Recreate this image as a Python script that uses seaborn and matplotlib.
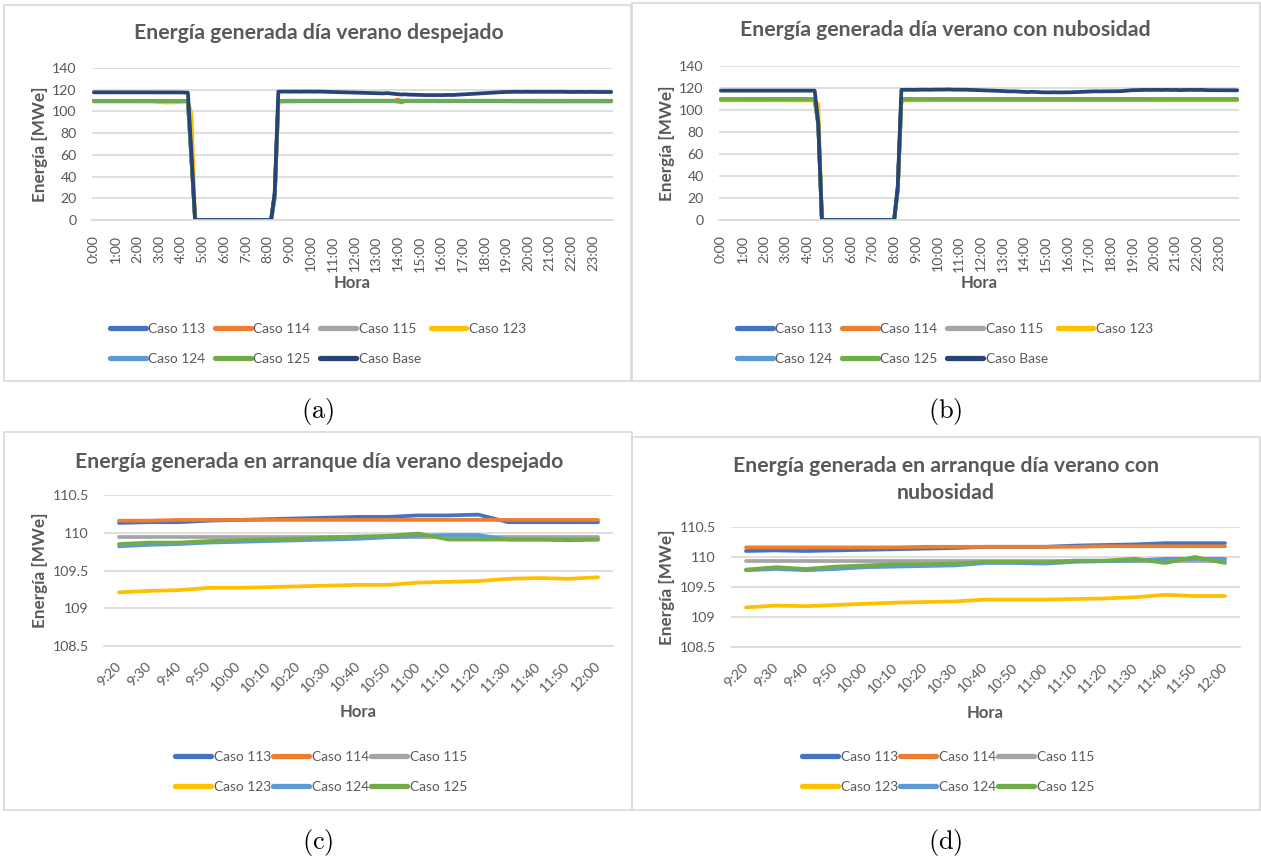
import numpy as np
import pandas as pd
import matplotlib
matplotlib.use("Agg")
import matplotlib.pyplot as plt
import seaborn as sns
from matplotlib.lines import Line2D
from matplotlib.patches import Rectangle

# ------------------------------------------------------------------
# Datos
# ------------------------------------------------------------------
SERIES = ["Caso 113", "Caso 114", "Caso 115", "Caso 123", "Caso 124", "Caso 125", "Caso Base"]
COLORS = {
    "Caso 113": "#4472C4",
    "Caso 114": "#ED7D31",
    "Caso 115": "#A5A5A5",
    "Caso 123": "#FFC000",
    "Caso 124": "#5B9BD5",
    "Caso 125": "#70AD47",
    "Caso Base": "#264478",
}

# Día completo: registros cada 10 minutos (0:00 ... 23:50), etiqueta cada hora
HORAS_DIA = ["0:00", "1:00", "2:00", "3:00", "4:00", "5:00", "6:00", "7:00",
             "8:00", "9:00", "10:00", "11:00", "12:00", "13:00", "14:00", "15:00",
             "16:00", "17:00", "18:00", "19:00", "20:00", "21:00", "22:00", "23:00"]
# Arranque: registros cada 10 minutos entre 9:20 y 12:00
HORAS_ARRANQUE = ["9:20", "9:30", "9:40", "9:50", "10:00", "10:10", "10:20", "10:30", "10:40",
                  "10:50", "11:00", "11:10", "11:20", "11:30", "11:40", "11:50", "12:00"]

# ---- (a) día verano despejado [MWe] ----
A_113 = [
    109.8, 109.8, 109.8, 109.8, 109.8, 109.8, 109.8, 109.8, 109.8, 109.8, 109.8, 109.8,
    109.8, 109.8, 109.8, 109.8, 109.8, 109.8, 109.8, 109.8, 109.8, 109.8, 109.8, 109.8,
    109.8, 109.8, 109.7, 57.0, 0.0, 0.0, 0.0, 0.0, 0.0, 0.0, 0.0, 0.0,
    0.0, 0.0, 0.0, 0.0, 0.0, 0.0, 0.0, 0.0, 0.0, 0.0, 0.0, 0.0,
    0.0, 0.0, 24.0, 109.7, 109.8, 109.8, 109.8, 109.8, 109.8, 109.8, 109.8, 109.8,
    109.8, 109.8, 109.8, 109.8, 109.8, 109.8, 109.8, 109.8, 109.8, 109.8, 109.8, 109.8,
    109.8, 109.8, 109.8, 109.8, 109.8, 109.8, 109.8, 109.8, 109.8, 109.8, 109.8, 109.8,
    109.8, 109.8, 109.8, 109.8, 109.8, 109.8, 109.8, 109.8, 109.8, 109.8, 109.8, 109.8,
    109.8, 109.8, 109.8, 109.8, 109.8, 109.8, 109.8, 109.8, 109.8, 109.8, 109.8, 109.8,
    109.8, 109.8, 109.8, 109.8, 109.8, 109.8, 109.8, 109.8, 109.8, 109.8, 109.8, 109.8,
    109.8, 109.8, 109.8, 109.8, 109.8, 109.8, 109.8, 109.8, 109.8, 109.8, 109.8, 109.8,
    109.8, 109.8, 109.8, 109.8, 109.8, 109.8, 109.8, 109.8, 109.8, 109.8, 109.8, 109.8,
]
A_114 = [
    109.7, 109.7, 109.7, 109.7, 109.7, 109.7, 109.7, 109.7, 109.7, 109.7, 109.7, 109.7,
    109.7, 109.7, 109.7, 109.7, 109.7, 109.7, 109.7, 109.7, 109.7, 109.7, 109.7, 109.7,
    109.7, 109.7, 109.7, 58.0, 0.0, 0.0, 0.0, 0.0, 0.0, 0.0, 0.0, 0.0,
    0.0, 0.0, 0.0, 0.0, 0.0, 0.0, 0.0, 0.0, 0.0, 0.0, 0.0, 0.0,
    0.0, 0.0, 23.0, 109.6, 109.7, 109.7, 109.7, 109.7, 109.7, 109.7, 109.7, 109.7,
    109.7, 109.7, 109.7, 109.7, 109.7, 109.7, 109.7, 109.7, 109.7, 109.7, 109.7, 109.7,
    109.7, 109.7, 109.7, 109.7, 109.7, 109.7, 109.7, 109.7, 109.7, 109.7, 109.7, 109.7,
    111.0, 109.7, 109.7, 109.7, 109.7, 109.7, 109.7, 109.7, 109.7, 109.7, 109.7, 109.7,
    109.7, 109.7, 109.7, 109.7, 109.7, 109.7, 109.7, 109.7, 109.7, 109.7, 109.7, 109.7,
    109.7, 109.7, 109.7, 109.7, 109.7, 109.7, 109.7, 109.7, 109.7, 109.7, 109.7, 109.7,
    109.7, 109.7, 109.7, 109.7, 109.7, 109.7, 109.7, 109.7, 109.7, 109.7, 109.7, 109.7,
    109.7, 109.7, 109.7, 109.7, 109.7, 109.7, 109.7, 109.7, 109.7, 109.7, 109.7, 109.7,
]
A_115 = [
    109.6, 109.6, 109.6, 109.6, 109.6, 109.6, 109.6, 109.6, 109.6, 109.6, 109.6, 109.6,
    109.6, 109.6, 109.6, 109.6, 109.6, 109.6, 109.6, 109.6, 109.6, 109.6, 109.6, 109.6,
    109.6, 109.6, 109.6, 56.0, 0.0, 0.0, 0.0, 0.0, 0.0, 0.0, 0.0, 0.0,
    0.0, 0.0, 0.0, 0.0, 0.0, 0.0, 0.0, 0.0, 0.0, 0.0, 0.0, 0.0,
    0.0, 0.0, 21.0, 109.5, 109.6, 109.6, 109.6, 109.6, 109.6, 109.6, 109.6, 109.6,
    109.6, 109.6, 109.6, 109.6, 109.6, 109.6, 109.6, 109.6, 109.6, 109.6, 109.6, 109.6,
    109.6, 109.6, 109.6, 109.6, 109.6, 109.6, 109.6, 109.6, 109.6, 109.6, 109.6, 109.6,
    109.6, 109.6, 109.6, 109.6, 109.6, 109.6, 109.6, 109.6, 109.6, 109.6, 109.6, 109.6,
    109.6, 109.6, 109.6, 109.6, 109.6, 109.6, 109.6, 109.6, 109.6, 109.6, 109.6, 109.6,
    109.6, 109.6, 109.6, 109.6, 109.6, 109.6, 109.6, 109.6, 109.6, 109.6, 109.6, 109.6,
    109.6, 109.6, 109.6, 109.6, 109.6, 109.6, 109.6, 109.6, 109.6, 109.6, 109.6, 109.6,
    109.6, 109.6, 109.6, 109.6, 109.6, 109.6, 109.6, 109.6, 109.6, 109.6, 109.6, 109.6,
]
A_123 = [
    109.0, 109.0, 109.0, 109.0, 109.0, 109.0, 109.0, 109.0, 109.0, 109.0, 109.0, 109.0,
    109.0, 109.0, 109.0, 109.0, 109.0, 108.8, 108.5, 108.3, 108.2, 108.2, 108.3, 108.5,
    108.7, 108.9, 108.9, 98.0, 0.0, 0.0, 0.0, 0.0, 0.0, 0.0, 0.0, 0.0,
    0.0, 0.0, 0.0, 0.0, 0.0, 0.0, 0.0, 0.0, 0.0, 0.0, 0.0, 0.0,
    0.0, 0.0, 20.0, 108.8, 108.8, 108.9, 109.0, 109.1, 109.2, 109.2, 109.2, 109.2,
    109.2, 109.3, 109.2, 109.3, 109.2, 109.3, 109.3, 109.2, 109.3, 109.3, 109.2, 109.3,
    109.3, 109.2, 109.3, 109.3, 109.2, 109.3, 109.3, 109.2, 109.3, 109.3, 109.2, 109.3,
    108.6, 109.3, 109.2, 109.3, 109.3, 109.2, 109.3, 109.3, 109.2, 109.3, 109.3, 109.2,
    109.3, 109.3, 109.2, 109.3, 109.3, 109.2, 109.3, 109.3, 109.2, 109.3, 109.3, 109.2,
    109.3, 109.2, 109.3, 109.3, 109.2, 109.2, 109.1, 109.1, 109.1, 109.0, 109.0, 109.0,
    109.0, 108.9, 108.9, 108.9, 108.9, 108.9, 108.9, 108.9, 108.9, 108.9, 108.9, 108.9,
    108.9, 108.9, 109.0, 109.0, 109.0, 109.0, 109.0, 109.0, 109.0, 109.0, 109.0, 109.0,
]
A_124 = [
    109.5, 109.5, 109.5, 109.5, 109.5, 109.5, 109.5, 109.5, 109.5, 109.5, 109.5, 109.5,
    109.5, 109.5, 109.5, 109.5, 109.5, 109.5, 109.5, 109.5, 109.5, 109.5, 109.5, 109.5,
    109.5, 109.5, 109.5, 54.0, 0.0, 0.0, 0.0, 0.0, 0.0, 0.0, 0.0, 0.0,
    0.0, 0.0, 0.0, 0.0, 0.0, 0.0, 0.0, 0.0, 0.0, 0.0, 0.0, 0.0,
    0.0, 0.0, 20.0, 109.4, 109.5, 109.5, 109.5, 109.5, 109.5, 109.5, 109.5, 109.5,
    109.5, 109.5, 109.5, 109.5, 109.5, 109.5, 109.5, 109.5, 109.5, 109.5, 109.5, 109.5,
    109.5, 109.5, 109.5, 109.5, 109.5, 109.5, 109.5, 109.5, 109.5, 109.5, 109.5, 109.5,
    109.5, 109.5, 109.5, 109.5, 109.5, 109.5, 109.5, 109.5, 109.5, 109.5, 109.5, 109.5,
    109.5, 109.5, 109.5, 109.5, 109.5, 109.5, 109.5, 109.5, 109.5, 109.5, 109.5, 109.5,
    109.5, 109.5, 109.5, 109.5, 109.5, 109.5, 109.5, 109.5, 109.5, 109.5, 109.5, 109.5,
    109.5, 109.5, 109.5, 109.5, 109.5, 109.5, 109.5, 109.5, 109.5, 109.5, 109.5, 109.5,
    109.5, 109.5, 109.5, 109.5, 109.5, 109.5, 109.5, 109.5, 109.5, 109.5, 109.5, 109.5,
]
A_125 = [
    109.7, 109.7, 109.8, 109.7, 109.7, 109.7, 109.8, 109.7, 109.7, 109.7, 109.7, 109.8,
    109.7, 109.7, 109.7, 109.8, 109.7, 109.7, 109.7, 109.7, 109.8, 109.7, 109.7, 109.7,
    109.7, 109.7, 109.6, 55.0, 0.0, 0.0, 0.0, 0.0, 0.0, 0.0, 0.0, 0.0,
    0.0, 0.0, 0.0, 0.0, 0.0, 0.0, 0.0, 0.0, 0.0, 0.0, 0.0, 0.0,
    0.0, 0.0, 22.0, 109.6, 109.7, 109.7, 109.8, 109.8, 109.7, 109.8, 109.8, 109.8,
    109.8, 109.8, 109.8, 109.8, 109.8, 109.8, 109.8, 109.8, 109.8, 109.8, 109.8, 109.8,
    109.8, 109.8, 109.8, 109.8, 109.8, 109.8, 109.8, 109.8, 109.8, 109.8, 109.8, 109.8,
    109.8, 108.2, 109.8, 109.8, 109.8, 109.8, 109.8, 109.8, 109.8, 109.8, 109.8, 109.8,
    109.8, 109.8, 109.8, 109.8, 109.8, 109.8, 109.8, 109.8, 109.8, 109.8, 109.8, 109.8,
    109.8, 109.8, 109.8, 109.8, 109.8, 109.8, 109.8, 109.8, 109.8, 109.8, 109.8, 109.8,
    109.7, 109.7, 109.7, 109.7, 109.7, 109.7, 109.7, 109.7, 109.7, 109.7, 109.7, 109.7,
    109.7, 109.7, 109.7, 109.7, 109.7, 109.7, 109.7, 109.7, 109.7, 109.7, 109.7, 109.7,
]
A_BASE = [
    117.6, 117.6, 117.7, 117.6, 117.6, 117.6, 117.7, 117.6, 117.6, 117.6, 117.6, 117.7,
    117.6, 117.6, 117.6, 117.7, 117.6, 117.6, 117.6, 117.6, 117.7, 117.6, 117.6, 117.5,
    117.5, 117.4, 117.3, 60.0, 0.0, 0.0, 0.0, 0.0, 0.0, 0.0, 0.0, 0.0,
    0.0, 0.0, 0.0, 0.0, 0.0, 0.0, 0.0, 0.0, 0.0, 0.0, 0.0, 0.0,
    0.0, 0.0, 25.0, 118.2, 118.3, 118.3, 118.2, 118.3, 118.3, 118.2, 118.3, 118.3,
    118.2, 118.2, 118.3, 118.2, 118.1, 118.0, 117.8, 117.7, 117.6, 117.5, 117.5, 117.4,
    117.2, 117.1, 117.0, 116.9, 117.0, 116.8, 116.7, 116.6, 116.6, 116.9, 116.5, 116.2,
    115.9, 115.6, 115.8, 115.5, 115.4, 115.2, 115.1, 115.1, 115.0, 115.1, 115.0, 115.1,
    115.0, 115.1, 115.2, 115.1, 115.3, 115.6, 115.8, 116.0, 116.2, 116.4, 116.5, 116.6,
    116.8, 117.0, 117.2, 117.4, 117.6, 117.8, 117.9, 118.0, 118.0, 118.1, 118.0, 118.1,
    118.1, 118.0, 118.1, 118.1, 118.0, 118.0, 118.1, 118.0, 118.1, 118.1, 118.0, 118.0,
    117.9, 118.0, 118.0, 117.9, 117.9, 118.0, 117.9, 117.9, 117.9, 117.8, 117.9, 117.9,
]

# ---- (b) día verano con nubosidad [MWe] ----
B_113 = [
    109.8, 109.8, 109.8, 109.8, 109.8, 109.8, 109.8, 109.8, 109.8, 109.8, 109.8, 109.8,
    109.8, 109.8, 109.8, 109.8, 109.8, 109.8, 109.8, 109.8, 109.8, 109.8, 109.8, 109.8,
    109.8, 109.8, 109.8, 88.0, 0.0, 0.0, 0.0, 0.0, 0.0, 0.0, 0.0, 0.0,
    0.0, 0.0, 0.0, 0.0, 0.0, 0.0, 0.0, 0.0, 0.0, 0.0, 0.0, 0.0,
    0.0, 29.0, 109.6, 109.8, 109.8, 109.8, 109.8, 109.8, 109.8, 109.8, 109.8, 109.8,
    109.8, 109.8, 109.8, 109.8, 109.8, 109.8, 109.8, 109.8, 109.8, 109.8, 109.8, 109.8,
    109.8, 109.8, 109.8, 109.8, 109.8, 109.8, 109.8, 109.8, 109.8, 109.8, 109.8, 109.8,
    109.8, 109.8, 109.8, 109.8, 109.8, 109.8, 109.8, 109.8, 109.8, 109.8, 109.8, 109.8,
    109.8, 109.8, 109.8, 109.8, 109.8, 109.8, 109.8, 109.8, 109.8, 109.8, 109.8, 109.8,
    109.8, 109.8, 109.8, 109.8, 109.8, 109.8, 109.8, 109.8, 109.8, 109.8, 109.8, 109.8,
    109.8, 109.8, 109.8, 109.8, 109.8, 109.8, 109.8, 109.8, 109.8, 109.8, 109.8, 109.8,
    109.8, 109.8, 109.8, 109.8, 109.8, 109.8, 109.8, 109.8, 109.8, 109.8, 109.8, 109.8,
]
B_114 = [
    109.9, 109.9, 109.9, 109.9, 109.9, 109.9, 109.9, 109.9, 109.9, 109.9, 109.9, 109.9,
    109.9, 109.9, 109.9, 109.9, 109.9, 109.9, 109.9, 109.9, 109.9, 109.9, 109.9, 109.9,
    109.9, 109.9, 109.9, 88.5, 0.0, 0.0, 0.0, 0.0, 0.0, 0.0, 0.0, 0.0,
    0.0, 0.0, 0.0, 0.0, 0.0, 0.0, 0.0, 0.0, 0.0, 0.0, 0.0, 0.0,
    0.0, 29.5, 109.7, 109.9, 109.9, 109.9, 109.9, 109.9, 109.9, 109.9, 109.9, 109.9,
    109.9, 109.9, 109.9, 109.9, 109.9, 109.9, 109.9, 109.9, 109.9, 109.9, 109.9, 109.9,
    109.9, 109.9, 109.9, 109.9, 109.9, 109.9, 109.9, 109.9, 109.9, 109.9, 109.9, 109.9,
    109.9, 109.9, 109.9, 109.9, 109.9, 109.9, 109.9, 109.9, 109.9, 109.9, 109.9, 109.9,
    109.9, 109.9, 109.9, 109.9, 109.9, 109.9, 109.9, 109.9, 109.9, 109.9, 109.9, 109.9,
    109.9, 109.9, 109.9, 109.9, 109.9, 109.9, 109.9, 109.9, 109.9, 109.9, 109.9, 109.9,
    109.9, 109.9, 109.9, 109.9, 109.9, 109.9, 109.9, 109.9, 109.9, 109.9, 109.9, 109.9,
    109.9, 109.9, 109.9, 109.9, 109.9, 109.9, 109.9, 109.9, 109.9, 109.9, 109.9, 109.9,
]
B_115 = [
    109.7, 109.7, 109.7, 109.7, 109.7, 109.7, 109.7, 109.7, 109.7, 109.7, 109.7, 109.7,
    109.7, 109.7, 109.7, 109.7, 109.7, 109.7, 109.7, 109.7, 109.7, 109.7, 109.7, 109.7,
    109.7, 109.7, 109.7, 87.5, 0.0, 0.0, 0.0, 0.0, 0.0, 0.0, 0.0, 0.0,
    0.0, 0.0, 0.0, 0.0, 0.0, 0.0, 0.0, 0.0, 0.0, 0.0, 0.0, 0.0,
    0.0, 28.5, 109.5, 109.7, 109.7, 109.7, 109.7, 109.7, 109.7, 109.7, 109.7, 109.7,
    109.7, 109.7, 109.7, 109.7, 109.7, 109.7, 109.7, 109.7, 109.7, 109.7, 109.7, 109.7,
    109.7, 109.7, 109.7, 109.7, 109.7, 109.7, 109.7, 109.7, 109.7, 109.7, 109.7, 109.7,
    109.7, 109.7, 109.7, 109.7, 109.7, 109.7, 109.7, 109.7, 109.7, 109.7, 109.7, 109.7,
    109.7, 109.7, 109.7, 109.7, 109.7, 109.7, 109.7, 109.7, 109.7, 109.7, 109.7, 109.7,
    109.7, 109.7, 109.7, 109.7, 109.7, 109.7, 109.7, 109.7, 109.7, 109.7, 109.7, 109.7,
    109.7, 109.7, 109.7, 109.7, 109.7, 109.7, 109.7, 109.7, 109.7, 109.7, 109.7, 109.7,
    109.7, 109.7, 109.7, 109.7, 109.7, 109.7, 109.7, 109.7, 109.7, 109.7, 109.7, 109.7,
]
B_123 = [
    108.8, 108.8, 108.8, 108.8, 108.8, 108.8, 108.8, 108.8, 108.8, 108.8, 108.8, 108.8,
    108.8, 108.8, 108.8, 108.8, 108.8, 108.8, 108.8, 108.8, 108.8, 108.8, 108.8, 108.7,
    108.6, 108.6, 108.7, 105.0, 0.0, 0.0, 0.0, 0.0, 0.0, 0.0, 0.0, 0.0,
    0.0, 0.0, 0.0, 0.0, 0.0, 0.0, 0.0, 0.0, 0.0, 0.0, 0.0, 0.0,
    0.0, 26.0, 108.6, 108.7, 108.7, 108.8, 108.8, 108.8, 108.9, 108.9, 108.9, 108.9,
    109.0, 109.0, 109.0, 109.1, 109.1, 109.1, 109.1, 109.1, 109.1, 109.1, 109.1, 109.1,
    109.1, 109.1, 109.1, 109.1, 109.1, 109.1, 109.1, 109.1, 109.1, 109.1, 109.1, 109.1,
    109.1, 109.1, 109.1, 109.1, 109.1, 109.1, 109.1, 109.1, 109.1, 109.1, 109.1, 109.1,
    109.1, 109.1, 109.1, 109.1, 109.1, 109.1, 109.1, 109.1, 109.1, 109.1, 109.1, 109.1,
    109.1, 109.1, 109.1, 109.1, 109.1, 109.1, 109.0, 109.0, 109.0, 108.9, 108.9, 108.9,
    108.8, 108.8, 108.8, 108.8, 108.8, 108.8, 108.8, 108.8, 108.8, 108.8, 108.8, 108.8,
    108.8, 108.8, 108.8, 108.8, 108.8, 108.8, 108.8, 108.8, 108.8, 108.8, 108.8, 108.8,
]
B_124 = [
    109.6, 109.6, 109.6, 109.6, 109.6, 109.6, 109.6, 109.6, 109.6, 109.6, 109.6, 109.6,
    109.6, 109.6, 109.6, 109.6, 109.6, 109.6, 109.6, 109.6, 109.6, 109.6, 109.6, 109.6,
    109.6, 109.6, 109.6, 87.0, 0.0, 0.0, 0.0, 0.0, 0.0, 0.0, 0.0, 0.0,
    0.0, 0.0, 0.0, 0.0, 0.0, 0.0, 0.0, 0.0, 0.0, 0.0, 0.0, 0.0,
    0.0, 28.0, 109.4, 109.6, 109.6, 109.6, 109.6, 109.6, 109.6, 109.6, 109.6, 109.6,
    109.6, 109.6, 109.6, 109.6, 109.6, 109.6, 109.6, 109.6, 109.6, 109.6, 109.6, 109.6,
    109.6, 109.6, 109.6, 109.6, 109.6, 109.6, 109.6, 109.6, 109.6, 109.6, 109.6, 109.6,
    109.6, 109.6, 109.6, 109.6, 109.6, 109.6, 109.6, 109.6, 109.6, 109.6, 109.6, 109.6,
    109.6, 109.6, 109.6, 109.6, 109.6, 109.6, 109.6, 109.6, 109.6, 109.6, 109.6, 109.6,
    109.6, 109.6, 109.6, 109.6, 109.6, 109.6, 109.6, 109.6, 109.6, 109.6, 109.6, 109.6,
    109.6, 109.6, 109.6, 109.6, 109.6, 109.6, 109.6, 109.6, 109.6, 109.6, 109.6, 109.6,
    109.6, 109.6, 109.6, 109.6, 109.6, 109.6, 109.6, 109.6, 109.6, 109.6, 109.6, 109.6,
]
B_125 = [
    109.7, 109.7, 109.7, 109.7, 109.7, 109.7, 109.7, 109.7, 109.7, 109.7, 109.7, 109.7,
    109.7, 109.7, 109.7, 109.7, 109.7, 109.7, 109.7, 109.7, 109.7, 109.7, 109.7, 109.7,
    109.7, 109.7, 109.7, 86.0, 0.0, 0.0, 0.0, 0.0, 0.0, 0.0, 0.0, 0.0,
    0.0, 0.0, 0.0, 0.0, 0.0, 0.0, 0.0, 0.0, 0.0, 0.0, 0.0, 0.0,
    0.0, 28.0, 109.6, 109.7, 109.7, 109.7, 109.7, 109.7, 109.7, 109.7, 109.7, 109.7,
    109.7, 109.7, 109.7, 109.7, 109.7, 109.7, 109.7, 109.7, 109.7, 109.7, 109.7, 109.7,
    109.7, 109.7, 109.7, 109.7, 109.7, 109.7, 109.7, 109.7, 109.7, 109.7, 109.7, 109.7,
    109.7, 109.7, 109.7, 109.7, 109.3, 109.7, 109.7, 109.7, 109.7, 109.7, 109.7, 109.7,
    109.7, 109.7, 109.7, 109.7, 109.7, 109.7, 109.7, 109.7, 109.7, 109.7, 109.7, 109.7,
    109.7, 109.7, 109.7, 109.7, 109.7, 109.7, 109.7, 109.7, 109.7, 109.7, 109.7, 109.7,
    109.7, 109.7, 109.7, 109.7, 109.7, 109.7, 109.7, 109.7, 109.7, 109.7, 109.7, 109.7,
    109.7, 109.7, 109.7, 109.7, 109.7, 109.7, 109.7, 109.7, 109.7, 109.7, 109.7, 109.7,
]
B_BASE = [
    117.6, 117.6, 117.6, 117.6, 117.6, 117.6, 117.6, 117.6, 117.6, 117.6, 117.6, 117.6,
    117.6, 117.6, 117.6, 117.6, 117.6, 117.6, 117.6, 117.6, 117.6, 117.6, 117.6, 117.6,
    117.6, 117.6, 117.6, 87.0, 0.0, 0.0, 0.0, 0.0, 0.0, 0.0, 0.0, 0.0,
    0.0, 0.0, 0.0, 0.0, 0.0, 0.0, 0.0, 0.0, 0.0, 0.0, 0.0, 0.0,
    0.0, 30.0, 118.3, 118.4, 118.4, 118.3, 118.4, 118.4, 118.5, 118.4, 118.4, 118.5,
    118.6, 118.5, 118.6, 118.7, 118.5, 118.5, 118.6, 118.4, 118.4, 118.3, 118.2, 118.1,
    118.0, 117.9, 117.8, 117.7, 117.5, 117.4, 117.2, 117.0, 116.9, 117.0, 116.8, 116.6,
    116.4, 116.3, 116.6, 116.4, 116.2, 116.1, 116.0, 116.0, 116.1, 116.0, 116.0, 116.0,
    116.1, 116.1, 116.2, 116.3, 116.5, 116.7, 116.8, 116.9, 117.0, 116.9, 117.0, 117.0,
    117.0, 117.1, 117.1, 117.2, 117.5, 117.8, 118.0, 118.1, 118.1, 118.2, 118.3, 118.2,
    118.3, 118.3, 118.2, 118.3, 118.2, 118.2, 118.3, 118.1, 118.2, 118.2, 118.3, 118.2,
    118.2, 118.3, 118.1, 118.0, 118.0, 117.9, 117.9, 118.0, 117.9, 117.9, 118.0, 117.9,
]

# ---- (c) arranque día verano despejado [MWe] ----
C_113 = [110.13, 110.14, 110.14, 110.16, 110.17, 110.18, 110.19, 110.20, 110.21,
         110.21, 110.23, 110.23, 110.24, 110.14, 110.14, 110.14, 110.14]
C_114 = [110.16, 110.16, 110.17, 110.17, 110.17, 110.17, 110.17, 110.17, 110.17,
         110.17, 110.17, 110.17, 110.17, 110.17, 110.17, 110.17, 110.17]
C_115 = [109.94, 109.94, 109.94, 109.94, 109.94, 109.94, 109.94, 109.94, 109.94,
         109.94, 109.94, 109.94, 109.94, 109.94, 109.94, 109.94, 109.94]
C_123 = [109.21, 109.23, 109.24, 109.27, 109.27, 109.28, 109.29, 109.30, 109.31,
         109.31, 109.34, 109.35, 109.36, 109.39, 109.40, 109.39, 109.41]
C_124 = [109.82, 109.84, 109.85, 109.87, 109.88, 109.89, 109.90, 109.91, 109.92,
         109.94, 109.96, 109.97, 109.97, 109.91, 109.91, 109.90, 109.91]
C_125 = [109.85, 109.87, 109.87, 109.89, 109.90, 109.91, 109.92, 109.94, 109.95,
         109.96, 109.99, 109.91, 109.91, 109.91, 109.91, 109.91, 109.91]

# ---- (d) arranque día verano con nubosidad [MWe] ----
D_113 = [110.10, 110.11, 110.10, 110.11, 110.12, 110.13, 110.14, 110.15, 110.17,
         110.17, 110.17, 110.19, 110.20, 110.21, 110.23, 110.23, 110.23]
D_114 = [110.16, 110.16, 110.16, 110.16, 110.16, 110.16, 110.17, 110.17, 110.17,
         110.17, 110.17, 110.17, 110.18, 110.18, 110.18, 110.18, 110.18]
D_115 = [109.94, 109.94, 109.94, 109.94, 109.94, 109.94, 109.94, 109.94, 109.94,
         109.94, 109.94, 109.94, 109.94, 109.94, 109.94, 109.94, 109.94]
D_123 = [109.16, 109.19, 109.18, 109.20, 109.22, 109.24, 109.25, 109.26, 109.29,
         109.29, 109.29, 109.30, 109.31, 109.33, 109.37, 109.35, 109.35]
D_124 = [109.78, 109.80, 109.78, 109.80, 109.83, 109.84, 109.85, 109.86, 109.90,
         109.90, 109.89, 109.92, 109.93, 109.94, 109.97, 109.97, 109.97]
D_125 = [109.79, 109.83, 109.80, 109.84, 109.86, 109.88, 109.88, 109.89, 109.92,
         109.92, 109.91, 109.94, 109.94, 109.97, 109.90, 110.00, 109.90]

# ------------------------------------------------------------------
# Estilo
# ------------------------------------------------------------------
sns.set_theme(style="white")
plt.rcParams["font.family"] = ["Lato", "DejaVu Sans"]
plt.rcParams["mathtext.fontset"] = "cm"

GRAY_TXT = "#595959"
GRID = "#d9d9d9"
LW = 2.7
TICK_FS = 10.2
TITLE_FS = 15.3
YLAB_FS = 12.3
XLAB_FS = 12
LEG_FS = 9.9

W, H = 1261, 859
fig = plt.figure(figsize=(W / 100, H / 100), dpi=100)
fig.patch.set_facecolor("white")


def fx(px):
    return px / W


def fy(py):
    return 1 - py / H


def frame(l, t, r, b):
    fig.add_artist(Rectangle((fx(l), fy(b)), fx(r - l), (b - t) / H,
                             transform=fig.transFigure, fill=False,
                             ec=GRID, lw=1.2))


def long_frame(data):
    parts = []
    for name, vals in data.items():
        parts.append(pd.DataFrame({"slot": np.arange(len(vals)),
                                   "energia": np.asarray(vals, float),
                                   "serie": name}))
    return pd.concat(parts, ignore_index=True)


def base_axes(l, t, r, b):
    ax = fig.add_axes([fx(l), fy(b), fx(r - l), (b - t) / H])
    ax.set_facecolor("white")
    for side in ("top", "right", "left"):
        ax.spines[side].set_visible(False)
    ax.spines["bottom"].set_color(GRID)
    ax.spines["bottom"].set_linewidth(1.2)
    ax.grid(axis="y", color=GRID, lw=1.2)
    ax.grid(axis="x", visible=False)
    ax.set_axisbelow(True)
    ax.tick_params(length=0, labelsize=TICK_FS, colors=GRAY_TXT)
    return ax


def draw_lines(ax, data):
    df = long_frame(data)
    sns.lineplot(data=df, x="slot", y="energia", hue="serie",
                 hue_order=list(data), palette=COLORS, linewidth=LW,
                 estimator=None, sort=False, legend=False, ax=ax)
    for ln in ax.get_lines():
        ln.set_solid_joinstyle("round")
        ln.set_solid_capstyle("round")
    ax.set_xlabel("")
    ax.set_ylabel("")


def legend(ax, names, ncol, cx, cy, colsp):
    handles = [Line2D([0], [0], color=COLORS[n], lw=3.8) for n in names]
    ax.legend(handles, names, ncol=ncol, loc="center",
              bbox_to_anchor=(fx(cx), fy(cy)), bbox_transform=fig.transFigure,
              frameon=False, fontsize=LEG_FS, labelcolor=GRAY_TXT,
              handlelength=2.6, handletextpad=0.19, columnspacing=colsp,
              labelspacing=1.3, borderpad=0, borderaxespad=0)


def panel_dia(box, rect, title, title_xy, data, lab_x, leg_cx):
    frame(*box)
    l, t, r, b = rect
    ax = base_axes(l, t, r, b)
    draw_lines(ax, data)
    ax.set_xlim(-0.5, 143.5)
    ax.set_ylim(0, 140)
    ax.set_yticks(np.arange(0, 141, 20))
    ax.set_xticks(np.arange(0, 144, 6))
    ax.set_xticklabels(HORAS_DIA, rotation=90)
    ax.tick_params(axis="x", pad=11)
    ax.tick_params(axis="y", pad=11)
    fig.text(fx(title_xy[0]), fy(title_xy[1]), title, ha="center", va="center",
             fontsize=TITLE_FS, fontweight="bold", color=GRAY_TXT)
    fig.text(fx(lab_x), fy((t + b) / 2), "Energía [MWe]", rotation=90,
             ha="center", va="center", fontsize=YLAB_FS, fontweight="bold", color=GRAY_TXT)
    fig.text(fx((l + r) / 2), fy(283), "Hora", ha="center", va="center",
             fontsize=XLAB_FS, fontweight="bold", color=GRAY_TXT)
    order = ["Caso 113", "Caso 124", "Caso 114", "Caso 125", "Caso 115", "Caso Base", "Caso 123"]
    legend(ax, order, 4, leg_cx, 344, 0.7)


def panel_arranque(box, rect, title_lines, data, lab_x, hora_y, leg_xy):
    frame(*box)
    l, t, r, b = rect
    ax = base_axes(l, t, r, b)
    draw_lines(ax, data)
    ax.set_xlim(-0.5, 16.5)
    ax.set_ylim(108.5, 110.5)
    ax.set_yticks([108.5, 109, 109.5, 110, 110.5])
    ax.set_yticklabels(["108.5", "109", "109.5", "110", "110.5"])
    ax.set_xticks(np.arange(len(HORAS_ARRANQUE)))
    ax.set_xticklabels(HORAS_ARRANQUE, rotation=45, ha="right", va="center",
                       rotation_mode="anchor")
    ax.tick_params(axis="x", pad=13)
    ax.tick_params(axis="y", pad=11)
    for txt, (x, y) in title_lines:
        fig.text(fx(x), fy(y), txt, ha="center", va="center",
                 fontsize=TITLE_FS, fontweight="bold", color=GRAY_TXT)
    fig.text(fx(lab_x), fy((t + b) / 2), "Energía [MWe]", rotation=90,
             ha="center", va="center", fontsize=YLAB_FS, fontweight="bold", color=GRAY_TXT)
    fig.text(fx((l + r) / 2), fy(hora_y), "Hora", ha="center", va="center",
             fontsize=XLAB_FS, fontweight="bold", color=GRAY_TXT)
    order = ["Caso 113", "Caso 123", "Caso 114", "Caso 124", "Caso 115", "Caso 125"]
    legend(ax, order, 3, leg_xy[0], leg_xy[1], 0.18)


panel_dia((4, 5, 631, 381), (92, 68, 613, 220),
          "Energía generada día verano despejado", (319, 33),
          dict(zip(SERIES, [A_113, A_114, A_115, A_123, A_124, A_125, A_BASE])), 40, 318)
panel_dia((632, 3, 1260, 381), (719, 66, 1239, 220),
          "Energía generada día verano con nubosidad", (945, 30),
          dict(zip(SERIES, [B_113, B_114, B_115, B_123, B_124, B_125, B_BASE])), 667, 945)

panel_arranque((4, 432, 632, 810), (104, 495, 613, 646),
               [("Energía generada en arranque día verano despejado", (319, 462))],
               dict(zip(SERIES[:6], [C_113, C_114, C_115, C_123, C_124, C_125])),
               40, 712, (321, 772))
panel_arranque((632, 437, 1260, 810), (731, 527, 1240, 647),
               [("Energía generada en arranque día verano con", (946, 466)),
                ("nubosidad", (946, 493))],
               dict(zip(SERIES[:6], [D_113, D_114, D_115, D_123, D_124, D_125])),
               667, 713, (948, 772))

# Subfigure captions
for txt, (x, y) in [("(a)", (318, 411)), ("(b)", (945, 411)),
                    ("(c)", (318, 843)), ("(d)", (945, 843))]:
    fig.text(fx(x), fy(y), r"$\mathrm{" + txt + "}$", ha="center", va="center",
             fontsize=19, color="black")

fig.savefig("out.png", dpi=100, facecolor="white")
